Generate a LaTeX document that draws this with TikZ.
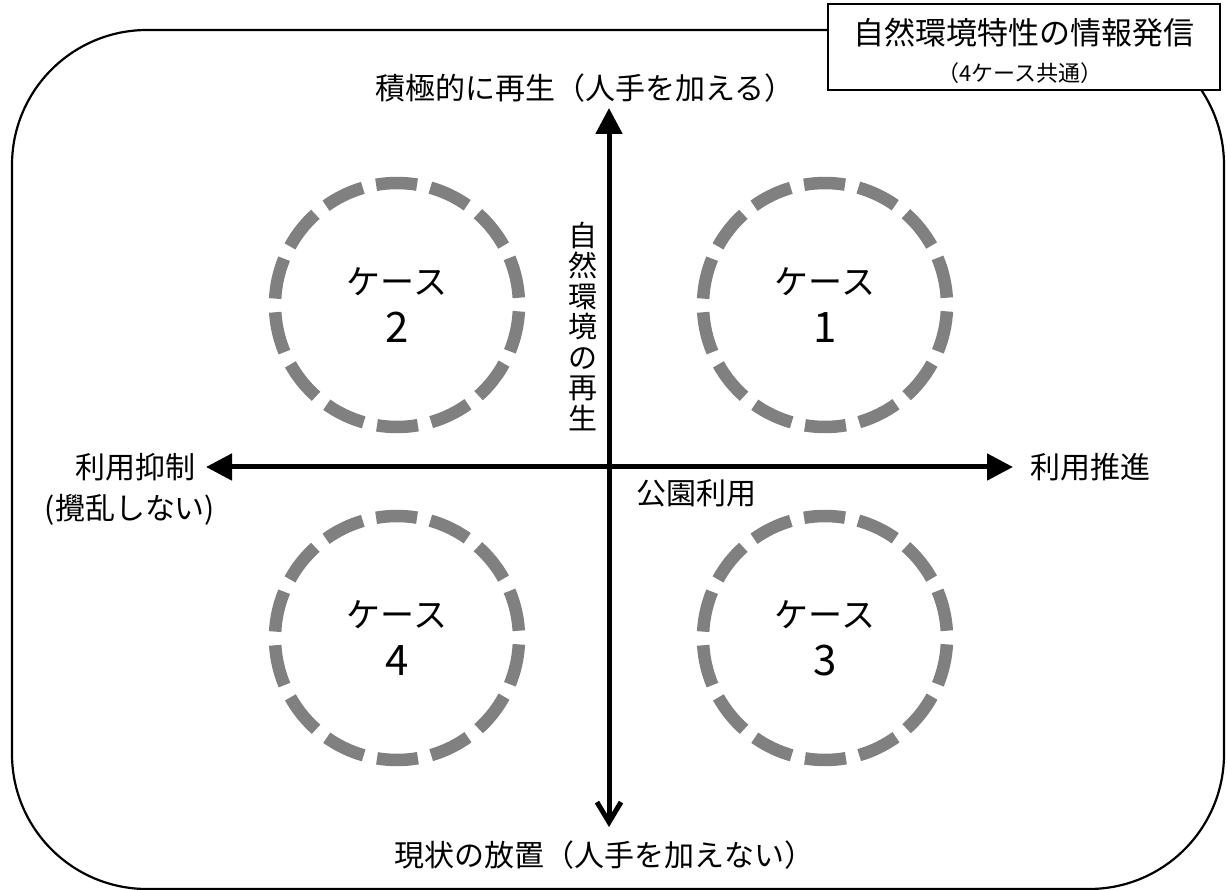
\documentclass[tikz,border=0pt]{standalone}
\usepackage{fontspec}
\setmainfont{Noto Sans CJK JP}
\usetikzlibrary{arrows.meta}
\definecolor{casegray}{RGB}{128,128,128}
\begin{document}
\begin{tikzpicture}[x=1pt,y=-1pt,
  casecircle/.style={circle, minimum size=244pt, inner sep=0pt,
    align=center, font=\fontsize{34}{50}\selectfont},
  casedash/.style={draw=casegray, line width=12.5pt},
  lbl/.style={inner sep=0pt, font=\fontsize{30}{36}\selectfont},
  axisline/.style={line width=5pt},
  frame/.style={draw, line width=2.2pt, rounded corners=135pt},
  infobox/.style={draw, line width=1.6pt, fill=white, inner sep=0pt,
    minimum width=392pt, minimum height=86pt}
]
\useasboundingbox (0,0) rectangle (1227,890);
% outer rounded frame
\draw[frame] (12,30) rectangle (1224,889);
% info box
\node[infobox] (info) at (1024,47) {};
\node[inner sep=0pt, font=\fontsize{31}{36}\selectfont] (infotitle) at (1024,33) {自然環境特性の情報発信};
\node[inner sep=0pt, font=\fontsize{22}{24}\selectfont] (infosub) at (1020,73) {（4ケース共通）};
% axes
\coordinate (top) at (609,108);
\coordinate (bot) at (609,827);
\coordinate (lft) at (206,467);
\coordinate (rgt) at (1013,467);
\draw[axisline, {Straight Barb[width=24pt,length=20pt,line width=5pt]}-{Triangle[width=26pt,length=26pt]}] (bot) -- (top);
\draw[axisline, {Triangle[width=26pt,length=26pt]}-{Triangle[width=26pt,length=26pt]}] (lft) -- (rgt);
% axis labels
\node[lbl] (toplbl) at (585,88) {積極的に再生（人手を加える）};
\node[lbl] (botlbl) at (604,855) {現状の放置（人手を加えない）};
\node[lbl] (leftlbl1) at (135,467) {利用抑制};
\node[lbl] (leftlbl2) at (130,510) {(攪乱しない)};
\node[lbl] (rightlbl) at (1090,467) {利用推進};
\node[lbl] (parklbl) at (696,493) {公園利用};
\node[inner sep=0pt, align=center, font=\fontsize{29}{30.5}\selectfont] (vertlbl) at (583,326) {自\\然\\環\\境\\の\\再\\生};
% cases
\node[casecircle] (case1) at (825,305) {ケース\\[-2pt]{\fontsize{42}{42}\selectfont 1}};
\node[casecircle] (case2) at (397,305) {ケース\\[-2pt]{\fontsize{42}{42}\selectfont 2}};
\node[casecircle] (case3) at (825,638) {ケース\\[-2pt]{\fontsize{42}{42}\selectfont 3}};
\node[casecircle] (case4) at (397,638) {ケース\\[-2pt]{\fontsize{42}{42}\selectfont 4}};
\foreach \c in {case1,case2,case3,case4}{
  \foreach \k in {0,...,13}{
    \pgfmathsetmacro{\sa}{\k*360/14+3}
    \draw[casedash] (\c.center) ++(\sa:122) arc[start angle=\sa, delta angle=19.3, radius=122];
  }
}
\end{tikzpicture}
\end{document}
